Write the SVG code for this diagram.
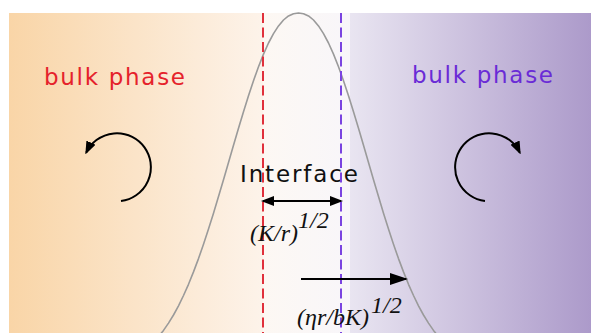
<svg xmlns="http://www.w3.org/2000/svg" width="591" height="333" viewBox="0 0 591 333">
<defs>
<linearGradient id="gl" x1="0" y1="0" x2="1" y2="0">
<stop offset="0" stop-color="#F9D5A7"/>
<stop offset="1" stop-color="#FDF3EA"/>
</linearGradient>
<linearGradient id="gm" x1="0" y1="0" x2="1" y2="0">
<stop offset="0" stop-color="#FDF8F3"/>
<stop offset="1" stop-color="#F8F6FA"/>
</linearGradient>
<linearGradient id="gr" x1="0" y1="0" x2="1" y2="0">
<stop offset="0" stop-color="#E9E5F1"/>
<stop offset="1" stop-color="#AC9ACA"/>
</linearGradient>
<marker id="ah" markerWidth="13" markerHeight="10" refX="11" refY="5" orient="auto-start-reverse" markerUnits="userSpaceOnUse">
<path d="M0,0 L13,5 L0,10 Z" fill="#000"/>
</marker>
<marker id="ahb" markerWidth="18" markerHeight="12" refX="16" refY="6" orient="auto" markerUnits="userSpaceOnUse">
<path d="M0,0 L18,6 L0,12 Z" fill="#000"/>
</marker>
</defs>
<style>
.dash{stroke-width:2;stroke-dasharray:10 4.5;fill:none}
.arr{stroke:#000;stroke-width:2;fill:none}
.bulk{font-family:"DejaVu Sans","Liberation Sans",sans-serif;font-size:23px}
.lbl{font-family:"DejaVu Sans","Liberation Sans",sans-serif;font-size:23px;fill:#111}
.math{font-family:"Liberation Serif","Times New Roman",serif;font-style:italic;font-size:24px;fill:#111}
</style>
<g id="background">
<rect x="9" y="13" width="254" height="320" fill="url(#gl)"/>
<rect x="263" y="13" width="88" height="320" fill="url(#gm)"/>
<rect x="350" y="13" width="241" height="320" fill="url(#gr)"/>
</g>
<g id="profile">
<polyline fill="none" stroke="#9a9a9a" stroke-width="1.6" stroke-linejoin="round" points="158.5,336.6 163.5,330.4 168.5,323.1 173.5,315.0 178.5,305.8 183.5,295.5 188.5,284.3 193.5,271.9 198.5,258.6 203.5,244.3 208.5,229.1 213.5,213.2 218.5,196.6 223.5,179.7 228.5,162.5 233.5,145.2 238.5,128.2 243.5,111.7 248.5,95.7 253.5,80.7 258.5,66.7 263.5,54.1 268.5,43.0 273.5,33.6 278.5,25.9 283.5,20.0 288.5,15.9 293.5,13.7 298.5,13 303.5,13.7 308.5,15.9 313.5,20.0 318.5,25.9 323.5,33.6 328.5,43.0 333.5,54.1 338.5,66.7 343.5,80.7 348.5,95.7 353.5,111.7 358.5,128.2 363.5,145.2 368.5,162.5 373.5,179.7 378.5,196.6 383.5,213.2 388.5,229.1 393.5,244.3 398.5,258.6 403.5,271.9 408.5,284.3 413.5,295.5 418.5,305.8 423.5,315.0 428.5,323.1 433.5,330.4 438.5,336.6"/>
</g>
<g id="left-bulk">
<text class="bulk" x="44" y="85" fill="#E5222B" textLength="141">bulk phase</text>
</g>
<g id="right-bulk">
<text class="bulk" x="412" y="83" fill="#6A2BD6" textLength="141">bulk phase</text>
</g>
<g id="interface">
<text class="lbl" x="240" y="182" textLength="118">Interface</text>
</g>
<g id="connectors">
<line class="dash" x1="263" y1="13" x2="263" y2="333" stroke="#E0303C"/>
<line class="dash" x1="341" y1="13" x2="341" y2="333" stroke="#7A44E0"/>
<line class="arr" x1="263" y1="201" x2="341" y2="201" marker-start="url(#ah)" marker-end="url(#ah)"/>
<line class="arr" x1="301" y1="279" x2="406" y2="279" marker-end="url(#ahb)"/>
<path class="arr" d="M121,201 A34,34 0 1 0 86.2,152.6" marker-end="url(#ah)"/>
<path class="arr" d="M485,201 A34,34 0 1 1 519.8,152.6" marker-end="url(#ah)"/>
</g>
<g id="label-kr">
<text class="math" x="250" y="241">(K/r)</text>
<text class="math" x="298" y="228">1/2</text>
</g>
<g id="label-eta">
<text class="math" x="297" y="325">(ηr/bK)</text>
<text class="math" x="371" y="313">1/2</text>
</g>
</svg>
